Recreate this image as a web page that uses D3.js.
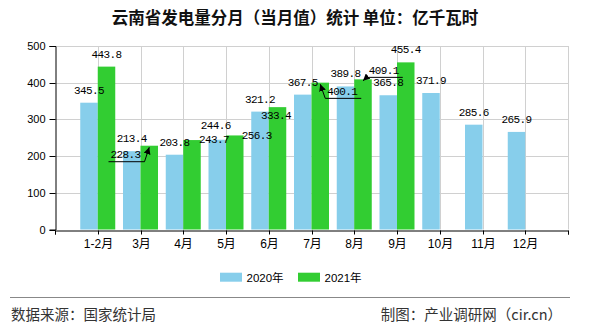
<!DOCTYPE html>
<html><head><meta charset="utf-8">
<script src="https://cdn.jsdelivr.net/npm/d3@7"></script>
<style>
html,body{margin:0;padding:0;background:#fff;}
svg{display:block;}
</style>
</head><body>
<svg id="c" width="590" height="330"></svg>
<script>
const categories = ["1-2月","3月","4月","5月","6月","7月","8月","9月","10月","11月","12月"];
const values2020 = [345.5,213.4,203.8,244.6,321.2,367.5,389.8,365.8,371.9,285.6,265.9];
const values2021 = [443.8,228.3,243.7,256.3,333.4,400.1,409.1,455.4,null,null,null];
const seriesNames = ["2020年","2021年"];
const yTicks = [0,100,200,300,400,500];
const titleText = "云南省发电量分月（当月值）统计 单位：亿千瓦时";
const sourceText = "数据来源：国家统计局";
const creditText = "制图：产业调研网（cir.cn）";

// label nudges (layout only): [series, index, dx, dy, leader side]
const labelNudges = [
  [1,1,-23.75,21.3,"right"],
  [1,2,22,11.7,null],
  [1,3,22,12.3,null],
  [1,4,-1.5,20.4,null],
  [1,5,22,21,"left"],
  [1,6,20.75,3.3,"left"],
  [0,3,-1.5,-2,null]
];

const colors = ["#87CEEB","#32CD32"];
const svg = d3.select("#c");
const L = 55, R = 568, T = 46, B = 229.5;
const x = d3.scaleLinear().domain([0, categories.length + 1]).range([L, R]);
const y = d3.scaleLinear().domain([0, 500]).range([B, T]);
const barW = 17.5;
const cjk = "'Liberation Sans','Noto Sans CJK SC',sans-serif";
const mono = "'Liberation Mono','Noto Sans CJK SC',monospace";

// grid
const g = svg.append("g");
g.selectAll("line.v").data(d3.range(1, categories.length + 2)).join("line")
  .attr("x1", d => Math.round(x(d)) + 0.5).attr("x2", d => Math.round(x(d)) + 0.5)
  .attr("y1", T).attr("y2", B).attr("stroke", "#d0d0d0");
g.selectAll("line.h").data(yTicks.filter(t => t > 0)).join("line")
  .attr("x1", L).attr("x2", R)
  .attr("y1", d => Math.round(y(d)) + 0.5).attr("y2", d => Math.round(y(d)) + 0.5)
  .attr("stroke", "#d0d0d0");

// bars
const series = [values2020, values2021];
series.forEach((vals, s) => {
  svg.append("g").selectAll("rect").data(vals.map((v, i) => ({v, i})).filter(d => d.v != null)).join("rect")
    .attr("x", d => x(d.i + 1) - barW + s * barW)
    .attr("width", barW)
    .attr("y", d => y(d.v))
    .attr("height", d => B - y(d.v))
    .attr("fill", colors[s]);
});

// axes
const yAxis = svg.append("g").attr("transform", `translate(${L + 0.5},0)`)
  .call(d3.axisLeft(y).tickValues(yTicks).tickSize(6).tickPadding(4));
yAxis.select(".domain").attr("stroke", "#000");
yAxis.selectAll("line").attr("stroke", "#000");
yAxis.selectAll(".tick").attr("transform", d => `translate(0,${Math.round(y(d)) + 0.5})`);
yAxis.selectAll("text").attr("font-family", "'Liberation Sans',sans-serif").attr("font-size", 11).attr("fill", "#000");

const xAxis = svg.append("g").attr("transform", `translate(0,${Math.round(B) + 0.5})`)
  .call(d3.axisBottom(x).tickValues(d3.range(0, categories.length + 2)).tickSize(4).tickPadding(5)
    .tickFormat(d => (d >= 1 && d <= categories.length) ? categories[d - 1] : ""));
xAxis.select(".domain").attr("stroke", "#000");
xAxis.selectAll(".tick").attr("transform", d => `translate(${Math.round(x(d)) + 0.5},0)`);
xAxis.selectAll("line").attr("stroke", "#000");
xAxis.selectAll("text").attr("font-family", cjk).attr("font-size", 12).attr("fill", "#000");

// value labels
const defs = svg.append("defs");
defs.append("marker").attr("id", "ah").attr("viewBox", "0 0 10 10").attr("refX", 10).attr("refY", 5)
  .attr("markerWidth", 7).attr("markerHeight", 7).attr("markerUnits", "userSpaceOnUse").attr("orient", "auto")
  .append("path").attr("d", "M0,0L10,5L0,10z").attr("fill", "#000");

const labels = [];
series.forEach((vals, s) => vals.forEach((v, i) => {
  if (v == null) return;
  const cx = x(i + 1) - barW / 2 + s * barW;
  const top = y(v);
  const n = labelNudges.find(a => a[0] === s && a[1] === i);
  labels.push({v, cx, top, dx: n ? n[2] : 0, dy: n ? n[3] : 0, side: n ? n[4] : null});
}));
const lg = svg.append("g");
labels.forEach(d => {
  const lx = d.cx + d.dx, ly = d.top - 9 + d.dy;
  lg.append("text").attr("x", lx).attr("y", ly).attr("text-anchor", "middle")
    .attr("font-family", mono).attr("font-size", 11).attr("letter-spacing", "-0.6px")
    .attr("fill", "#000").text(d.v.toFixed(1));
  if (d.side) {
    const uy = ly + 3.7, ul = lx - 17, ur = lx + 19;
    lg.append("line").attr("x1", ul).attr("x2", ur).attr("y1", uy).attr("y2", uy).attr("stroke", "#000");
    const sx = d.side === "left" ? ul : ur;
    lg.append("line").attr("x1", sx).attr("y1", uy).attr("x2", d.cx).attr("y2", d.top + 1.5)
      .attr("stroke", "#000").attr("marker-end", "url(#ah)");
  }
});

// title
svg.append("text").attr("x", 295).attr("y", 24).attr("text-anchor", "middle")
  .attr("font-family", "'Noto Sans CJK SC',sans-serif").attr("font-weight", "bold").attr("font-size", 16.5)
  .attr("fill", "#111").text(titleText);

// legend
const legend = svg.append("g");
const legX = [220, 298];
seriesNames.forEach((nm, s) => {
  legend.append("rect").attr("x", legX[s]).attr("y", 272.7).attr("width", 22).attr("height", 9).attr("fill", colors[s]);
  legend.append("text").attr("x", legX[s] + 26.5).attr("y", 281.5).attr("font-family", cjk)
    .attr("font-size", 11.5).attr("fill", "#000").text(nm);
});

// footer
svg.append("line").attr("x1", 10).attr("x2", 570).attr("y1", 297.5).attr("y2", 297.5).attr("stroke", "#888");
svg.append("text").attr("x", 11).attr("y", 320).attr("font-family", "'Noto Sans CJK SC',sans-serif")
  .attr("font-size", 14.5).attr("fill", "#333").text(sourceText);
svg.append("text").attr("x", 562).attr("y", 320).attr("text-anchor", "end").attr("font-family", "'Noto Sans CJK SC',sans-serif")
  .attr("font-size", 14.5).attr("fill", "#333").text(creditText);
</script>
</body></html>
